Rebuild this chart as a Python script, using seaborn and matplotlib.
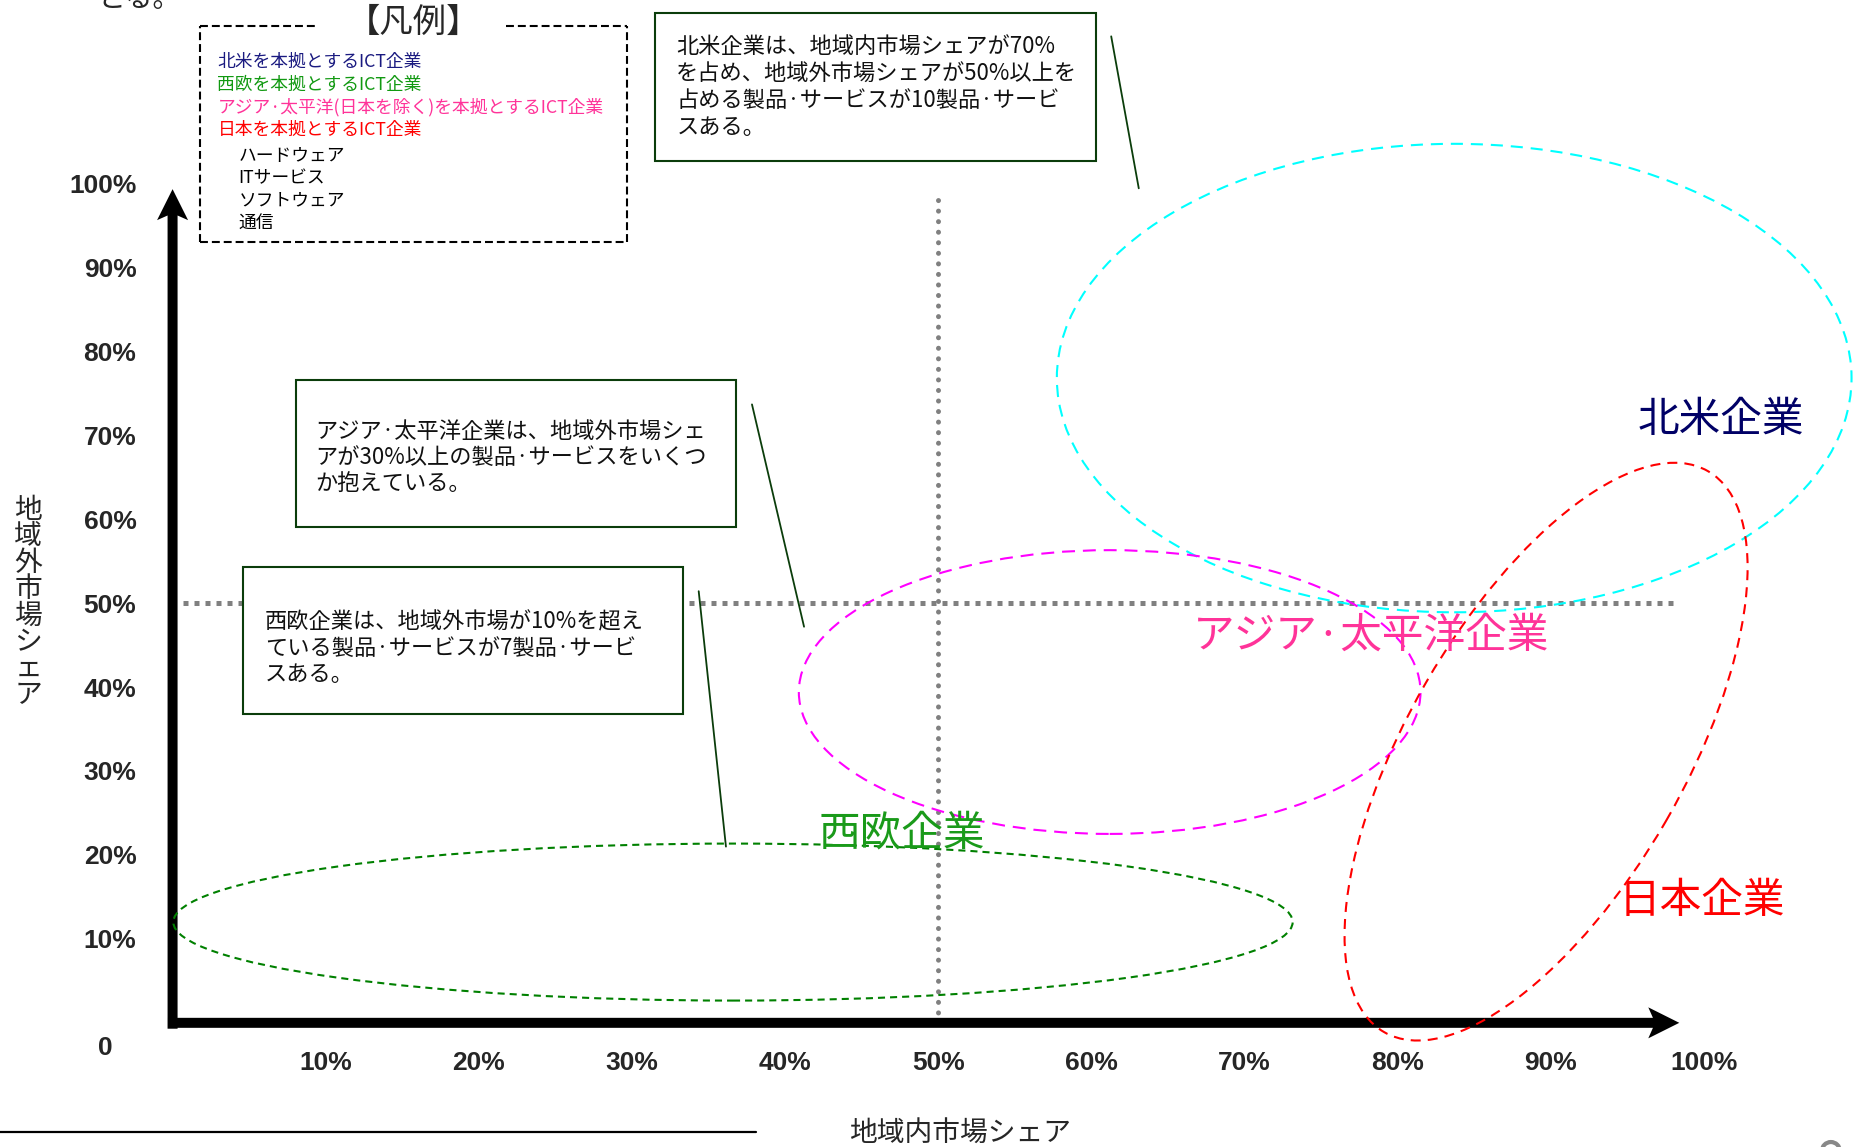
import matplotlib
matplotlib.use("Agg")
import matplotlib.pyplot as plt
from matplotlib.patches import Ellipse, Rectangle
from matplotlib.transforms import Affine2D
import seaborn as sns

# ---------------- data ----------------
# 目盛り (%)
x_ticks = [10, 20, 30, 40, 50, 60, 70, 80, 90, 100]
y_ticks = [10, 20, 30, 40, 50, 60, 70, 80, 90, 100]
x_tick_labels = [f"{v}%" for v in x_ticks]
y_tick_labels = [f"{v}%" for v in y_ticks]

# 地域ごとの製品・サービス分布範囲 (楕円)
regions = ["北米企業", "西欧企業", "アジア·太平洋企業", "日本企業"]
ellipse_cx = [83.7, 36.6, 61.2, 89.7]      # 地域内市場シェア (%)
ellipse_cy = [76.8, 12.0, 39.4, 32.3]      # 地域外市場シェア (%)
ellipse_w = [51.9, 73.1, 40.6, 42.3]       # 幅 (地域内シェア %)
ellipse_h = [55.8, 18.7, 33.8, 33.0]       # 高さ (地域外シェア %)
ellipse_angle = [0, 0, 0, 60]              # 傾き (度)

# 基準線
share_threshold = 50

# 凡例
legend_regions = ["北米を本拠とするICT企業", "西欧を本拠とするICT企業",
                  "アジア·太平洋(日本を除く)を本拠とするICT企業", "日本を本拠とするICT企業"]
legend_sectors = ["ハードウェア", "ITサービス", "ソフトウェア", "通信"]

# 吹き出し
notes = [
    ["北米企業は、地域内市場シェアが70%",
     "を占め、地域外市場シェアが50%以上を",
     "占める製品·サービスが10製品·サービ",
     "スある。"],
    ["アジア·太平洋企業は、地域外市場シェ",
     "アが30%以上の製品·サービスをいくつ",
     "か抱えている。"],
    ["西欧企業は、地域外市場が10%を超え",
     "ている製品·サービスが7製品·サービ",
     "スある。"],
]

# ---------------- style ----------------
ellipse_colors = ["#00FFFF", "#008000", "#FF00FF", "#FF0000"]
ellipse_dashes = [(5.8, 3.8), (3.4, 2.4), (6.2, 3.8), (4.8, 3.4)]
label_colors = ["#000066", "#1A9A1A", "#FF3399", "#FF0000"]
legend_colors = ["#1A1A80", "#119911", "#FF3399", "#FF0000"]
label_pos = [(101.1, 71.7), (47.6, 22.5), (78.3, 46.1), (99.9, 14.4)]
note_green = "#0B3D0B"
tick_font = dict(fontfamily="Liberation Sans", fontsize=19, fontweight="bold")

sns.set_theme(style="white")
plt.rcParams["font.family"] = ["Noto Sans CJK JP", "DejaVu Sans"]

W, H = 1854, 1147
fig = plt.figure(figsize=(W / 100, H / 100), dpi=100)
ax = fig.add_axes([0, 0, 1, 1])
xlim = (-11.27, 109.81)
ylim = (-14.79, 121.83)
ax.set_xlim(*xlim)
ax.set_ylim(*ylim)
ax.set_facecolor("white")
ax.grid(False)

# axes pass through the origin; the spines only carry the tick labels
for side in ["top", "right"]:
    ax.spines[side].set_visible(False)
ax.spines["left"].set_position(("data", 0))
ax.spines["bottom"].set_position(("data", 0))
ax.spines["left"].set_linewidth(0)
ax.spines["bottom"].set_linewidth(0)
ax.set_xticks(x_ticks)
ax.set_xticklabels(x_tick_labels, **tick_font)
ax.set_yticks(y_ticks)
ax.set_yticklabels(y_tick_labels, **tick_font)
ax.tick_params(axis="x", length=0, pad=20)
ax.tick_params(axis="y", length=0, pad=26)
ax.text(-4.4, -3.0, "0", ha="center", va="center", **tick_font)

# pixel scale of the data units
px_x = W / (xlim[1] - xlim[0])
px_y = H / (ylim[1] - ylim[0])
k = px_x / px_y

# 50% guide lines
sns.lineplot(x=[0.7, 98.4], y=[share_threshold, share_threshold], ax=ax,
             color="#808080", lw=3.6, linestyle=(0, (1, 1.2)),
             dash_capstyle="butt", estimator=None, sort=False, zorder=2)
sns.lineplot(x=[share_threshold, share_threshold], y=[0, 99.0], ax=ax,
             color="#808080", lw=3.6, linestyle=(0, (0.01, 2.1)),
             dash_capstyle="round", estimator=None, sort=False, zorder=2)

# axis arrows
ax.arrow(-0.3, 0, 98.7, 0, width=10 / px_y, head_width=31 / px_y,
         head_length=31 / px_x, length_includes_head=True, overhang=0.15,
         color="black", lw=0, zorder=3)
ax.arrow(0, -0.7, 0, 100.0, width=10 / px_x, head_width=31 / px_x,
         head_length=31 / px_y, length_includes_head=True, overhang=0.15,
         color="black", lw=0, zorder=3)

# region ellipses (built in an equal-aspect frame so the tilt is true on screen)
eq = Affine2D().scale(1 / k, 1) + ax.transData
for cx, cy, w, h, ang, col, dsh in zip(ellipse_cx, ellipse_cy, ellipse_w,
                                         ellipse_h, ellipse_angle,
                                         ellipse_colors, ellipse_dashes):
    ax.add_patch(Ellipse((cx * k, cy), w * k, h, angle=ang, transform=eq,
                         fill=False, edgecolor=col, lw=1.5,
                         linestyle=(0, dsh), zorder=4))

for name, (lx, ly), col in zip(regions, label_pos, label_colors):
    ax.text(lx, ly, name, color=col, fontsize=30, ha="center", va="center",
            zorder=6)

# callout boxes
boxes = [(31.5, 102.7, 28.8, 17.6), (8.05, 59.06, 28.75, 17.5),
         (4.62, 36.75, 28.73, 17.57)]
text_origin = [(32.9, 116.2), (9.3, 70.5), (6.03, 47.8)]
pointers = [((61.3, 63.1), (117.5, 99.4)), ((37.84, 41.24), (73.66, 47.18)),
            ((34.36, 36.14), (51.41, 20.99))]
line_step = 26.7 / px_y
for (bx, by, bw, bh), (tx, ty), (px, py), lines in zip(boxes, text_origin,
                                                       pointers, notes):
    ax.add_patch(Rectangle((bx, by), bw, bh, facecolor="white",
                           edgecolor=note_green, lw=1.5, zorder=5))
    for i, line in enumerate(lines):
        ax.text(tx, ty - i * line_step, line, fontsize=16, ha="left",
                va="center", color="#111111", zorder=6)
    ax.plot(px, py, color=note_green, lw=1.3, zorder=5)

# legend
leg_dash = (0, (3.8, 1.9))
lx0, lx1, ly0, ly1 = 1.78, 29.65, 92.96, 118.7
for xs, ys in [((lx0, lx0), (ly0, ly1)), ((lx1, lx1), (ly0, ly1)),
               ((lx0, lx1), (ly0, ly0)), ((lx0, 9.4), (ly1, ly1)),
               ((21.8, lx1), (ly1, ly1))]:
    ax.plot(xs, ys, color="black", lw=1.5, linestyle=leg_dash, zorder=5)
ax.text(15.75, 119.2, "【凡例】", fontsize=24, ha="center", va="center")
leg_y = [114.5, 111.7, 109.0, 106.3]
for txt, col, yy in zip(legend_regions, legend_colors, leg_y):
    ax.text(2.93, yy, txt, color=col, fontsize=12.8, ha="left", va="center")
sec_y = [103.2, 100.6, 97.9, 95.2]
for txt, yy in zip(legend_sectors, sec_y):
    ax.text(4.32, yy, txt, color="black", fontsize=12.8, ha="left",
            va="center")

# axis titles
ax.text(51.4, -13.1, "地域内市場シェア", fontsize=20, ha="center",
        va="center")
for i, ch in enumerate("地域外市場シェア"):
    ax.text(-9.42, 61.1 - i * 26.4 / px_y, ch, fontsize=20, ha="center",
            va="center")

# page furniture
ax.text(-4.94, 121.0, "とる。", fontsize=20, ha="left", va="baseline")
ax.plot([-11.27, 38.1], [-12.96, -12.96], color="black", lw=1.6)
ax.add_patch(Ellipse((108.3, -15.27), 18 / px_x, 18 / px_y, fill=False,
                     edgecolor="#888888", lw=3, clip_on=False))

fig.savefig("out.png", dpi=100)
